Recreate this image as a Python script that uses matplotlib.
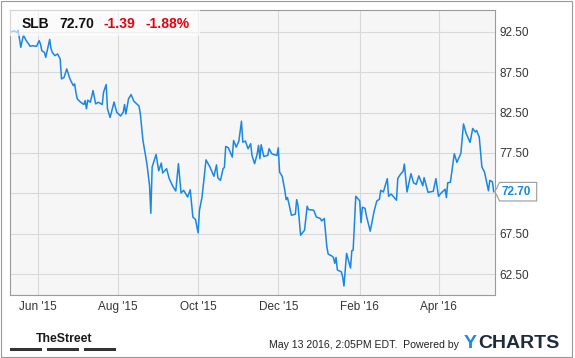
import numpy as np
import matplotlib
matplotlib.use('Agg')
import matplotlib.pyplot as plt
import matplotlib.dates as mdates
import matplotlib.patches as mpatches
import matplotlib.transforms as mtransforms

plt.rcParams['font.family'] = ['Liberation Sans', 'DejaVu Sans']

# ---------------- data ----------------
ticker_symbol = 'SLB'
change_text = '-1.39'
change_pct_text = '-1.88%'
timestamp_text = 'May 13 2016, 2:05PM EDT.  Powered by'

base_date = '2015-06-01'
day_offsets = [
    -20, -18, -16, -15, -13, -11, -9, -7, -6, -4, -1, 1, 2, 3, 5, 6, 9, 10, 11, 13,
    15, 17, 18, 20, 22, 24, 25, 27, 28, 29, 30, 32, 35, 36, 37, 38, 40, 42, 44, 46,
    49, 50, 52, 53, 55, 58, 60, 63, 65, 66, 67, 69, 71, 73, 77, 78, 80, 83, 85, 86,
    87, 89, 90, 92, 94, 95, 98, 100, 103, 105, 107, 109, 111, 114, 116, 118, 120, 122, 123, 125,
    128, 131, 134, 136, 137, 139, 141, 142, 143, 145, 148, 149, 151, 153, 155, 156, 158, 160, 162, 163,
    165, 167, 168, 169, 170, 172, 175, 176, 178, 180, 182, 183, 184, 186, 188, 189, 190, 191, 193, 196,
    197, 198, 200, 203, 205, 206, 210, 212, 215, 216, 218, 220, 221, 224, 225, 226, 227, 228, 231, 232,
    233, 235, 238, 239, 240, 242, 245, 246, 247, 249, 250, 253, 256, 258, 260, 261, 263, 266, 267, 269,
    273, 274, 276, 278, 279, 281, 284, 286, 288, 290, 293, 294, 297, 301, 303, 305, 307, 310, 311, 312,
    314, 317, 319, 322, 324, 326, 329, 331, 333, 334, 336, 338, 340, 343, 344, 346, 347,
]
prices = [
    92.50, 92.62, 92.41, 92.71, 90.56, 92.07, 91.45, 90.98, 90.71, 90.77, 90.69, 91.39, 90.98, 90.15, 89.94, 89.33, 91.55, 90.44, 89.94, 89.54,
    89.75, 89.13, 86.66, 86.86, 87.90, 86.86, 86.45, 85.83, 86.04, 84.97, 84.19, 83.86, 83.49, 83.98, 82.96, 84.04, 83.77, 85.22, 83.57, 83.77,
    83.49, 85.01, 85.96, 82.96, 81.88, 83.80, 82.54, 82.07, 82.54, 83.49, 82.31, 84.19, 84.72, 83.92, 83.30, 82.34, 79.04, 76.17, 73.49, 70.03,
    75.75, 76.78, 77.31, 75.28, 76.24, 75.01, 75.55, 74.31, 73.28, 72.78, 76.17, 72.54, 72.87, 72.04, 72.93, 69.57, 69.25, 67.60, 70.40, 72.04,
    76.64, 75.75, 74.60, 76.02, 74.41, 74.10, 75.55, 75.71, 78.30, 78.14, 76.98, 79.04, 78.22, 78.96, 81.43, 78.83, 78.96, 78.02, 78.64, 77.19,
    76.17, 77.40, 78.43, 76.78, 78.51, 77.07, 77.19, 78.02, 77.40, 77.28, 77.19, 78.14, 75.13, 74.60, 72.87, 71.72, 71.97, 71.30, 69.78, 69.91,
    71.72, 71.02, 67.31, 67.93, 70.90, 70.49, 70.40, 69.57, 69.38, 69.08, 69.38, 65.87, 64.97, 64.72, 64.56, 63.82, 64.56, 63.00, 62.78, 62.17,
    61.02, 65.06, 63.24, 65.40, 65.46, 72.13, 71.57, 68.86, 70.77, 70.65, 69.78, 67.81, 70.31, 71.55, 71.76, 72.87, 72.66, 74.31, 72.13, 72.41,
    71.64, 74.35, 74.85, 75.22, 76.12, 72.66, 74.93, 73.80, 73.61, 74.66, 73.43, 74.44, 72.62, 72.75, 74.31, 72.13, 72.54, 73.00, 71.97, 73.80,
    73.86, 77.40, 76.33, 77.44, 81.08, 79.91, 78.80, 80.52, 80.09, 80.28, 79.45, 75.75, 75.13, 72.81, 74.10, 73.92, 72.70,
]
y_ticks = [92.5, 87.5, 82.5, 77.5, 72.5, 67.5, 62.5]
x_tick_dates = ['2015-06-01', '2015-08-01', '2015-10-01', '2015-12-01', '2016-02-01', '2016-04-01']
x_tick_labels = ["Jun '15", "Aug '15", "Oct '15", "Dec '15", "Feb '16", "Apr '16"]

# ---------------- layout helpers ----------------
W, H = 575, 358
fig = plt.figure(figsize=(W / 100, H / 100), dpi=100)
fig.patch.set_facecolor('white')


def fx(px):
    return px / W


def fy(py):
    return 1 - py / H


LINE_BLUE = '#1a87e3'

ax = fig.add_axes([fx(10), fy(295), (494.5 - 10) / W, (295 - 10) / H])
ax.set_facecolor('#f6f6f6')

base = mdates.date2num(np.datetime64(base_date))
xs = base + np.array(day_offsets, dtype=float)
ax.plot(xs, prices, color=LINE_BLUE, lw=1.1, solid_joinstyle='round', zorder=3)

ax.set_xlim(base - 21.2, base + 347.6)
ax.set_ylim(59.91, 95.19)
ax.set_xticks(mdates.date2num(np.array(x_tick_dates, dtype='datetime64[D]')))
ax.set_xticklabels(x_tick_labels)
ax.set_yticks(y_ticks)
ax.set_yticklabels([f'{v:.2f}' for v in y_ticks])
ax.yaxis.tick_right()
ax.tick_params(axis='both', length=0, labelsize=8.5, labelcolor='#333333')
ax.tick_params(axis='x', pad=4.5)
ax.tick_params(axis='y', pad=3.5)
ax.grid(True, color='#d9d9d9', lw=0.8)
ax.set_axisbelow(True)
for s in ax.spines.values():
    s.set_color('#9a9a9a')
    s.set_linewidth(0.8)
last_price = prices[-1]
for lbl, v in zip(ax.get_yticklabels(), y_ticks):
    if abs(v - 72.5) < 1e-9:
        lbl.set_visible(False)

# header overlay
fig.add_artist(mpatches.Rectangle((fx(10), fy(36)), (200 - 10) / W, 26 / H,
                                  transform=fig.transFigure, facecolor='white',
                                  alpha=0.6, edgecolor='none', zorder=2))
hdr = dict(fontsize=10, fontweight='bold', va='baseline', zorder=4)
fig.text(fx(21.7), fy(28), ticker_symbol, color='#111111', **hdr)
fig.text(fx(59.3), fy(28), f'{last_price:.2f}', color='#111111', **hdr)
fig.text(fx(104), fy(28), change_text, color='#e8000b', **hdr)
fig.text(fx(145), fy(28), change_pct_text, color='#e8000b', **hdr)

# last price tag
fig.canvas.draw()
axx, ayy = ax.get_yaxis_transform().transform((1.0, last_price))
hh = 9.3
poly = [(axx + 0.5, ayy), (axx + 5, ayy + hh), (axx + 42.2, ayy + hh),
        (axx + 42.2, ayy - hh), (axx + 5, ayy - hh)]
fig.add_artist(mpatches.Polygon(poly, closed=True, transform=mtransforms.IdentityTransform(),
                                facecolor='white', edgecolor='#9a9a9a', lw=0.8, zorder=3))
fig.text(axx + 7.5, ayy, f'{last_price:.2f}', transform=mtransforms.IdentityTransform(),
         ha='left', va='center', color=LINE_BLUE, fontsize=8.5, fontweight='bold', zorder=6)

# footer
fig.text(fx(36), fy(341.7), 'TheStreet', fontweight='bold', fontsize=8.8,
         va='baseline', color='#1a1a1a')
for x0, x1 in [(9.9, 42.2), (46.9, 78.8), (83.6, 115.5)]:
    fig.add_artist(mpatches.Rectangle((fx(x0), fy(351)), (x1 - x0) / W, 3.3 / H,
                                      transform=fig.transFigure, facecolor='#333333',
                                      edgecolor='none'))
fig.text(fx(268.8), fy(348.3), timestamp_text, fontsize=7.6, color='#222222', va='baseline')
fig.text(fx(464), fy(348.3), 'Y', fontsize=14, fontweight='bold', color='#1a8ae8', va='baseline')
fig.text(fx(478.5), fy(348.3), 'CHARTS', fontsize=14, fontweight='bold', color='#1e2b3c', va='baseline')

# outer frame
fig.add_artist(mpatches.Rectangle((fx(0.5), fy(357)), 571.5 / W, 356.5 / H,
                                  transform=fig.transFigure, fill=False,
                                  edgecolor='#999999', lw=0.8))

fig.savefig('out.png', dpi=100)
